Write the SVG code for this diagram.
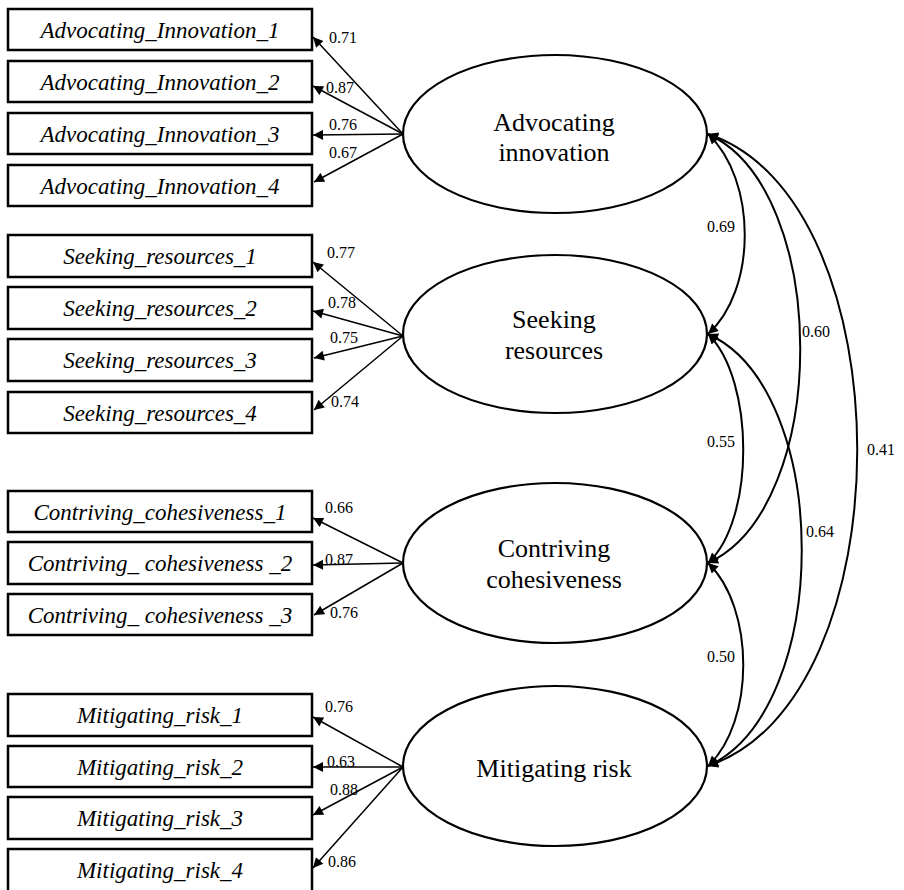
<svg xmlns="http://www.w3.org/2000/svg" width="904" height="890" viewBox="0 0 904 890">
<style>
.box{fill:#fff;stroke:#000;stroke-width:2.5}
.ell{fill:#fff;stroke:#000;stroke-width:2.2}
text{font-family:"Liberation Serif","Times New Roman",serif;fill:#000}
.bt{font-style:italic;font-size:23px;text-anchor:middle}
.et{font-size:26px;text-anchor:middle}
.num{font-size:16px}
.ln{fill:none;stroke:#000;stroke-width:1.5;marker-end:url(#ah)}
.cv{fill:none;stroke:#000;stroke-width:2;marker-start:url(#ah2);marker-end:url(#ah2)}
</style>
<defs>
<marker id="ah" viewBox="0 0 10 10" refX="10" refY="5" markerWidth="11" markerHeight="10" markerUnits="userSpaceOnUse" orient="auto"><path d="M0,0 L10,5 L0,10 z" fill="#000"/></marker>
<marker id="ah2" viewBox="0 0 10 10" refX="10" refY="5" markerWidth="11" markerHeight="10" markerUnits="userSpaceOnUse" orient="auto-start-reverse"><path d="M0,0 L10,5 L0,10 z" fill="#000"/></marker>
</defs>
<rect width="904" height="890" fill="#fff"/>

<g id="ai1"><rect class="box" x="8" y="9" width="304" height="41"/><text class="bt" x="160" y="37.5">Advocating_Innovation_1</text></g>
<g id="ai2"><rect class="box" x="8" y="61" width="304" height="41"/><text class="bt" x="160" y="89.5">Advocating_Innovation_2</text></g>
<g id="ai3"><rect class="box" x="8" y="113" width="304" height="41"/><text class="bt" x="160" y="141.5">Advocating_Innovation_3</text></g>
<g id="ai4"><rect class="box" x="8" y="165" width="304" height="41"/><text class="bt" x="160" y="193.5">Advocating_Innovation_4</text></g>

<g id="sr1"><rect class="box" x="8" y="235" width="304" height="42"/><text class="bt" x="160" y="264">Seeking_resources_1</text></g>
<g id="sr2"><rect class="box" x="8" y="287" width="304" height="42"/><text class="bt" x="160" y="316">Seeking_resources_2</text></g>
<g id="sr3"><rect class="box" x="8" y="339" width="304" height="42"/><text class="bt" x="160" y="368">Seeking_resources_3</text></g>
<g id="sr4"><rect class="box" x="8" y="392" width="304" height="41"/><text class="bt" x="160" y="420.5">Seeking_resources_4</text></g>

<g id="cc1"><rect class="box" x="8" y="491" width="304" height="41"/><text class="bt" x="160" y="519.5">Contriving_cohesiveness_1</text></g>
<g id="cc2"><rect class="box" x="8" y="542" width="304" height="42"/><text class="bt" x="160" y="571">Contriving_ cohesiveness _2</text></g>
<g id="cc3"><rect class="box" x="8" y="594" width="304" height="41"/><text class="bt" x="160" y="622.5">Contriving_ cohesiveness _3</text></g>

<g id="mr1"><rect class="box" x="8" y="694" width="304" height="42"/><text class="bt" x="160" y="723">Mitigating_risk_1</text></g>
<g id="mr2"><rect class="box" x="8" y="746" width="304" height="41"/><text class="bt" x="160" y="774.5">Mitigating_risk_2</text></g>
<g id="mr3"><rect class="box" x="8" y="797" width="304" height="42"/><text class="bt" x="160" y="826">Mitigating_risk_3</text></g>
<g id="mr4"><rect class="box" x="8" y="849" width="304" height="46"/><text class="bt" x="160" y="878">Mitigating_risk_4</text></g>

<g id="advocating"><ellipse class="ell" cx="555" cy="134" rx="152" ry="79"/><text class="et" x="554" y="131">Advocating</text><text class="et" x="554" y="161">innovation</text></g>
<g id="seeking"><ellipse class="ell" cx="555" cy="334" rx="152" ry="79"/><text class="et" x="554" y="328">Seeking</text><text class="et" x="554" y="359">resources</text></g>
<g id="contriving"><ellipse class="ell" cx="555" cy="563" rx="152" ry="80"/><text class="et" x="554" y="557">Contriving</text><text class="et" x="554" y="588">cohesiveness</text></g>
<g id="mitigating"><ellipse class="ell" cx="555" cy="766" rx="152" ry="80"/><text class="et" x="554" y="777">Mitigating risk</text></g>

<g id="connectors">
<line class="ln" x1="403" y1="134" x2="313" y2="37"/>
<line class="ln" x1="403" y1="134" x2="313" y2="86"/>
<line class="ln" x1="403" y1="134" x2="313" y2="135"/>
<line class="ln" x1="403" y1="134" x2="314" y2="182"/>
<line class="ln" x1="403" y1="336" x2="313" y2="262"/>
<line class="ln" x1="403" y1="336" x2="313" y2="311"/>
<line class="ln" x1="403" y1="336" x2="314" y2="358"/>
<line class="ln" x1="403" y1="336" x2="314" y2="410"/>
<line class="ln" x1="403" y1="563" x2="313" y2="518"/>
<line class="ln" x1="403" y1="563" x2="313" y2="565"/>
<line class="ln" x1="403" y1="563" x2="314" y2="615"/>
<line class="ln" x1="403" y1="767" x2="313" y2="717"/>
<line class="ln" x1="403" y1="767" x2="313" y2="767"/>
<line class="ln" x1="403" y1="767" x2="313" y2="815"/>
<line class="ln" x1="403" y1="767" x2="313" y2="868"/>

<path class="cv" d="M708,134 C757,180 757,290 708,334"/>
<path class="cv" d="M708,134 C831,190 831,507 708,563"/>
<path class="cv" d="M708,134 C907,200 907,700 708,766"/>
<path class="cv" d="M708,334 C755,380 755,520 708,563"/>
<path class="cv" d="M708,334 C833,390 833,709 708,766"/>
<path class="cv" d="M708,563 C755,608 755,722 708,766"/>

<text class="num" x="329" y="43">0.71</text>
<text class="num" x="326" y="93">0.87</text>
<text class="num" x="329" y="130">0.76</text>
<text class="num" x="329" y="158">0.67</text>
<text class="num" x="327" y="258">0.77</text>
<text class="num" x="328" y="308">0.78</text>
<text class="num" x="330" y="343">0.75</text>
<text class="num" x="331" y="407">0.74</text>
<text class="num" x="325" y="513">0.66</text>
<text class="num" x="325" y="565">0.87</text>
<text class="num" x="330" y="618">0.76</text>
<text class="num" x="325" y="712">0.76</text>
<text class="num" x="327" y="767">0.63</text>
<text class="num" x="330" y="795">0.88</text>
<text class="num" x="328" y="867">0.86</text>

<text class="num" x="707" y="232">0.69</text>
<text class="num" x="802" y="337">0.60</text>
<text class="num" x="867" y="455">0.41</text>
<text class="num" x="707" y="447">0.55</text>
<text class="num" x="806" y="537">0.64</text>
<text class="num" x="707" y="662">0.50</text>
</g>
</svg>
